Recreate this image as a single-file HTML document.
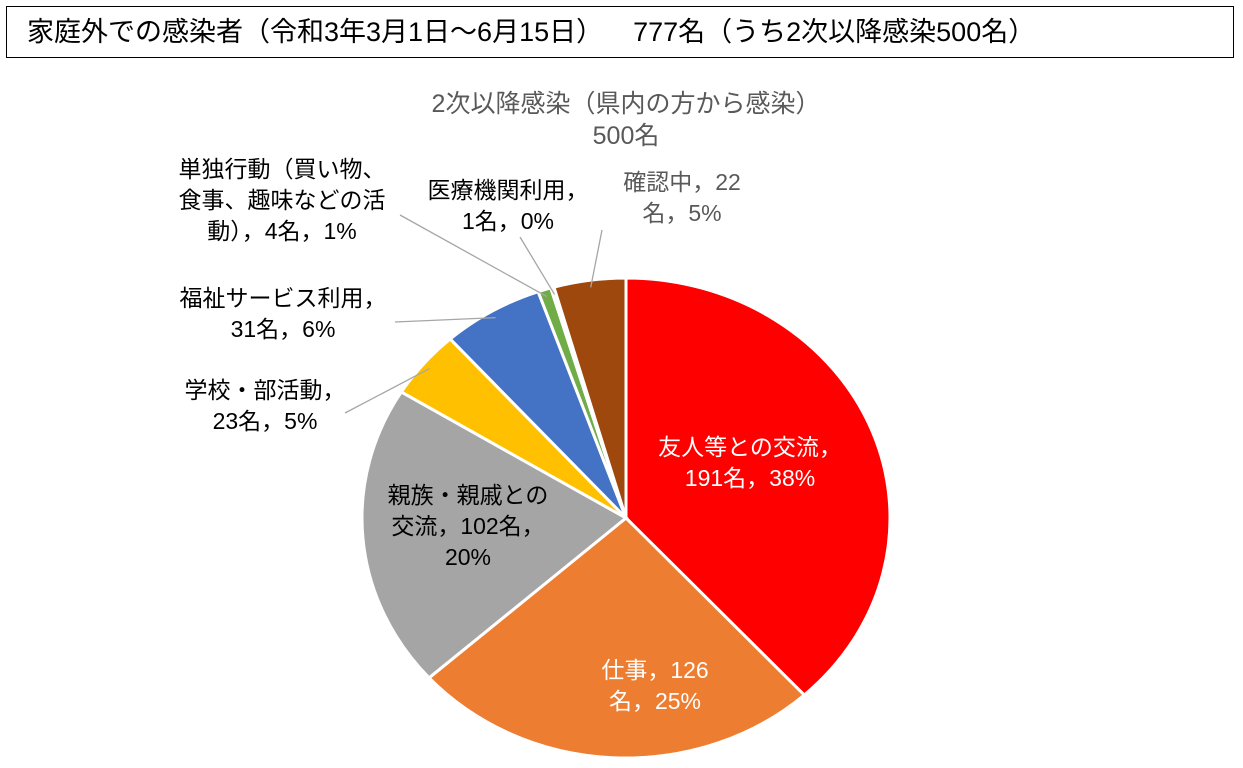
<!DOCTYPE html>
<html><head><meta charset="utf-8">
<style>
body{margin:0;background:#fff;width:1243px;height:768px;overflow:hidden;font-family:"Liberation Sans","Noto Sans CJK JP",sans-serif;}
#title{position:absolute;left:6px;top:6px;width:1228px;height:52px;border:1.5px solid #000;box-sizing:border-box;font-size:27px;line-height:50px;padding-left:20px;color:#000;white-space:pre;}
svg{position:absolute;left:0;top:0;}
svg text{font-family:"Liberation Sans","Noto Sans CJK JP",sans-serif;}
</style></head><body>
<div id="title">家庭外での感染者（令和3年3月1日～6月15日）    777名（うち2次以降感染500名）</div>
<svg id="chart" width="1243" height="768">
<text x="626" y="112" text-anchor="middle" font-size="25" fill="#595959">2次以降感染（県内の方から感染）</text>
<text x="626" y="144" text-anchor="middle" font-size="25" fill="#595959">500名</text>
<g id="slices"></g><g id="labels"></g>
</svg>
<script>
const categories=["友人等との交流","仕事","親族・親戚との交流","学校・部活動","福祉サービス利用","単独行動（買い物、食事、趣味などの活動）","医療機関利用","確認中"];
const values=[191,126,102,23,31,4,1,22];
const percents=["38%","25%","20%","5%","6%","1%","0%","5%"];
const colors=["#ff0000","#ed7d31","#a5a5a5","#ffc000","#4472c4","#70ad47","#dae3f3","#9e480e"];
const cx=626,cy=518,rx=264,ry=240;
const total=values.reduce((a,b)=>a+b,0);
function pt(a,f){return [cx+rx*f*Math.sin(a),cy-ry*f*Math.cos(a)];}
const ns="http://www.w3.org/2000/svg";
const sg=document.getElementById('slices');
let acc=0;const mids=[];
values.forEach((v,i)=>{
 const a0=acc/total*2*Math.PI;acc+=v;const a1=acc/total*2*Math.PI;
 mids.push((a0+a1)/2);
 const p0=pt(a0,1),p1=pt(a1,1);
 const p=document.createElementNS(ns,'path');
 p.setAttribute('d',`M${cx},${cy}L${p0[0]},${p0[1]}A${rx},${ry} 0 ${a1-a0>Math.PI?1:0} 1 ${p1[0]},${p1[1]}Z`);
 p.setAttribute('fill',colors[i]);p.setAttribute('stroke','#fff');p.setAttribute('stroke-width','3');
 
 
 sg.appendChild(p);
});
const lg=document.getElementById('labels');
const labelLines=[
 [[categories[0]+"，",""+values[0]+"名，"+percents[0]]],
 [["仕事，"+values[1],"名，"+percents[1]]],
 [["親族・親戚との","交流，"+values[2]+"名，",percents[2]]],
 [["学校・部活動，",values[3]+"名，"+percents[3]]],
 [["福祉サービス利用，",values[4]+"名，"+percents[4]]],
 [["単独行動（買い物、","食事、趣味などの活","動），"+values[5]+"名，"+percents[5]]],
 [["医療機関利用，",values[6]+"名，"+percents[6]]],
 [["確認中，"+values[7],"名，"+percents[7]]]
];
const lpos=[[750,455,'#fff'],[655,678,'#fff'],[468,503,'#000'],[265,398,'#000'],[283,306,'#000'],[282,177,'#000'],[508,198,'#000'],[682,190,'#595959']];
const leaders=[null,null,null,[345,413],[395,322],[400,215],[520,237],[602,230]];
lpos.forEach((l,i)=>{
 const lines=labelLines[i][0];
 lines.forEach((s,j)=>{
  const t=document.createElementNS(ns,'text');
  t.setAttribute('x',l[0]);t.setAttribute('y',l[1]+j*31);
  t.setAttribute('text-anchor','middle');t.setAttribute('font-size','23');t.setAttribute('fill',l[2]);
  t.textContent=s;
  
  
  lg.appendChild(t);
 });
 if(leaders[i]){
  const e=pt(mids[i],0.97);
  const ln=document.createElementNS(ns,'polyline');
  ln.setAttribute('points',`${leaders[i][0]},${leaders[i][1]} ${e[0]},${e[1]}`);
  ln.setAttribute('stroke','#a6a6a6');ln.setAttribute('fill','none');ln.setAttribute('stroke-width','1.3');
  
  
  lg.appendChild(ln);
 }
});
</script>
</body></html>
